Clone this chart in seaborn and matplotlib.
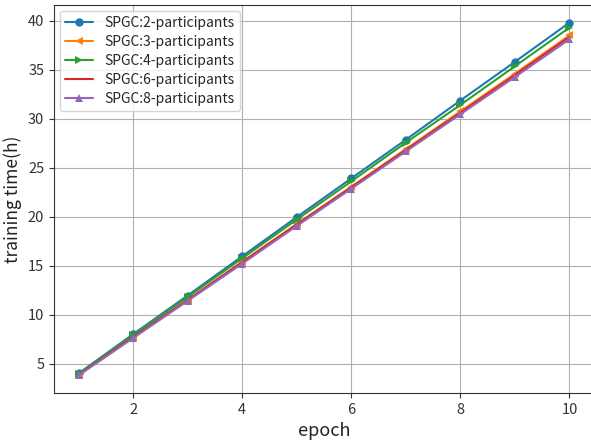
import matplotlib
matplotlib.use("Agg")
import matplotlib.pyplot as plt
import seaborn as sns
import pandas as pd

EPOCHS = [1, 2, 3, 4, 5, 6, 7, 8, 9, 10]
LABELS = ["SPGC:2-participants", "SPGC:3-participants", "SPGC:4-participants",
          "SPGC:6-participants", "SPGC:8-participants"]
P2 = [4.0, 8.0, 11.95, 15.95, 19.95, 23.9, 27.85, 31.85, 35.8, 39.8]
P3 = [3.85, 7.7, 11.5, 15.4, 19.25, 23.05, 26.9, 30.75, 34.6, 38.5]
P4 = [3.95, 7.9, 11.8, 15.75, 19.7, 23.6, 27.55, 31.4, 35.35, 39.3]
P6 = [3.85, 7.7, 11.5, 15.35, 19.2, 23.0, 26.8, 30.6, 34.45, 38.35]
P8 = [3.8, 7.6, 11.4, 15.2, 19.05, 22.85, 26.65, 30.45, 34.25, 38.1]
MARKERS = ["o", "<", ">", "", "^"]


def main():
    sns.set_style("ticks")
    plt.rcParams["font.family"] = ["Noto Sans CJK JP", "DejaVu Sans"]

    fig = plt.figure(figsize=(5.91, 4.41), dpi=100)
    ax = fig.add_axes([54 / 591, 48 / 441, 540 / 591, 388 / 441])

    colors = sns.color_palette("tab10")
    for i, ys in enumerate([P2, P3, P4, P6, P8]):
        df = pd.DataFrame({"epoch": EPOCHS, "t": ys})
        sns.lineplot(data=df, x="epoch", y="t", ax=ax, color=colors[i],
                     marker=MARKERS[i] if MARKERS[i] else None,
                     markersize=6, markeredgewidth=0, linewidth=1.5,
                     label=LABELS[i])

    ax.grid(True, color="#b0b0b0", linewidth=0.8)
    ax.set_xlabel("epoch", fontsize=13, color="#222222")
    ax.set_ylabel("training time(h)", fontsize=12.5, color="#222222")
    ax.tick_params(labelsize=10.5, colors="#333333", length=3.5)
    for s in ax.spines.values():
        s.set_color("#333333")
    ax.legend(loc="upper left", fontsize=10, frameon=True, framealpha=0.8,
              edgecolor="#cccccc", handlelength=2.0, labelspacing=0.35,
              borderaxespad=0.4)
    fig.savefig("out.png", dpi=100)


if __name__ == "__main__":
    main()
